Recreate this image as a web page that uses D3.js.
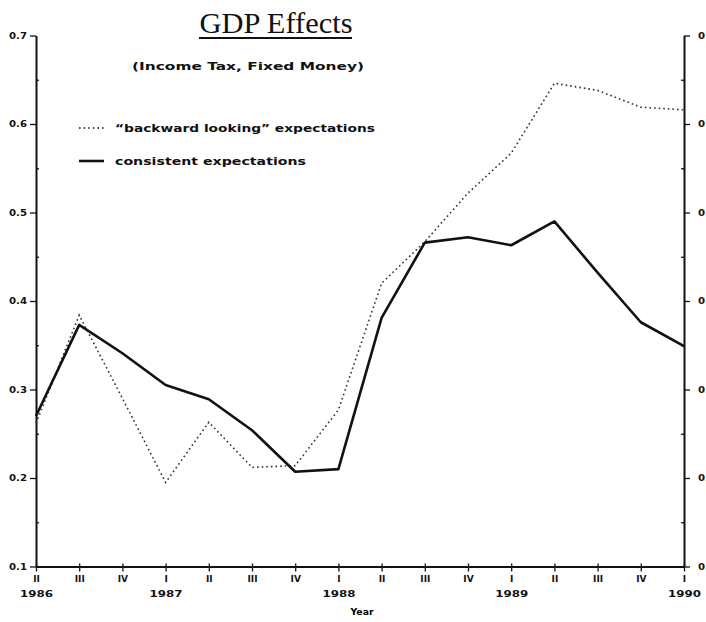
<!DOCTYPE html>
<html>
<head>
<meta charset="utf-8">
<script src="https://cdn.jsdelivr.net/npm/d3@7"></script>
<style>
  body { margin: 0; background: #fff; }
  svg { display: block; }
  .tick text { font-family: "DejaVu Sans", sans-serif; font-weight: bold; fill: #111; }
</style>
</head>
<body>
<div id="chart"></div>
<script>
// quarters from 1986 II to 1990 I
var quarters = ["II","III","IV","I","II","III","IV","I","II","III","IV","I","II","III","IV","I"];
var years    = ["1986","","","1987","","","","1988","","","","1989","","","","1990"];
var yTicks   = [0.1, 0.2, 0.3, 0.4, 0.5, 0.6, 0.7];

var backward   = [0.262, 0.384, 0.290, 0.195, 0.263, 0.212, 0.214, 0.277, 0.420, 0.467, 0.522, 0.567, 0.646, 0.638, 0.619, 0.616];
var consistent = [0.270, 0.373, 0.341, 0.305, 0.289, 0.254, 0.207, 0.210, 0.381, 0.466, 0.472, 0.463, 0.490, 0.432, 0.376, 0.349];

var W = 706, H = 622;
var plotL = 36, plotR = 684, plotT = 35.5, plotB = 566.5;

var svg = d3.select("#chart").append("svg")
  .attr("width", W).attr("height", H);

var x = d3.scaleLinear().domain([0, 15]).range([plotL, plotR]);
var y = d3.scaleLinear().domain([0.1, 0.7]).range([plotB, plotT]);

// left axis, major ticks outward
var yl = svg.append("g")
  .attr("transform", "translate(" + plotL + ",0)")
  .call(d3.axisLeft(y).tickValues(yTicks).tickSize(6).tickSizeOuter(0).tickPadding(3)
    .tickFormat(d3.format(".1f")));
yl.selectAll("text").style("font-size", "8px").attr("textLength", 18).attr("lengthAdjust", "spacingAndGlyphs");

// right axis, labels run off the page like the original
var yr = svg.append("g")
  .attr("transform", "translate(" + plotR + ",0)")
  .call(d3.axisRight(y).tickValues(yTicks).tickSize(6).tickSizeOuter(0).tickPadding(8)
    .tickFormat(d3.format(".1f")));
yr.selectAll("text").style("font-size", "8px").attr("textLength", 18).attr("lengthAdjust", "spacingAndGlyphs");

// minor ticks inside
var minor = [0.15, 0.25, 0.35, 0.45, 0.55, 0.65];
svg.append("g").attr("transform", "translate(" + plotL + ",0)")
  .call(d3.axisRight(y).tickValues(minor).tickSize(3).tickFormat(""))
  .select(".domain").remove();
svg.append("g").attr("transform", "translate(" + plotR + ",0)")
  .call(d3.axisLeft(y).tickValues(minor).tickSize(3).tickFormat(""))
  .select(".domain").remove();

// bottom axis
var xa = svg.append("g")
  .attr("transform", "translate(0," + plotB + ")")
  .call(d3.axisBottom(x).tickValues(d3.range(16)).tickSize(5).tickSizeOuter(0).tickPadding(4)
    .tickFormat(function(i) { return quarters[i]; }));
xa.selectAll("text").style("font-size", "9px");
xa.selectAll(".tick line").attr("y1", -3);
xa.selectAll(".tick").append("text")
  .attr("y", 30).attr("text-anchor", "middle")
  .style("font-size", "9px")
  .text(function(i) { return years[i]; })
  .each(function(i) {
    if (years[i]) d3.select(this).attr("textLength", 33).attr("lengthAdjust", "spacingAndGlyphs");
  });

svg.selectAll(".domain").attr("stroke", "#111").attr("stroke-width", 2);
svg.selectAll(".tick line").attr("stroke", "#111").attr("stroke-width", 1.3);

// axis title
svg.append("text")
  .attr("x", 362).attr("y", 615)
  .attr("text-anchor", "middle")
  .style("font-family", "DejaVu Sans").style("font-weight", "bold").style("font-size", "9px")
  .attr("textLength", 23).attr("lengthAdjust", "spacingAndGlyphs")
  .text("Year");

// lines
var line = d3.line()
  .x(function(d, i) { return x(i); })
  .y(function(d) { return y(d); });

svg.append("path")
  .datum(backward)
  .attr("d", line)
  .attr("fill", "none")
  .attr("stroke", "#333")
  .attr("stroke-width", 1.6)
  .attr("stroke-dasharray", "1.6,3");

svg.append("path")
  .datum(consistent)
  .attr("d", line)
  .attr("fill", "none")
  .attr("stroke", "#111")
  .attr("stroke-width", 2.6)
  .attr("stroke-linejoin", "round");

// titles
svg.append("text")
  .attr("x", 276).attr("y", 33)
  .attr("text-anchor", "middle")
  .style("font-family", "Liberation Serif, serif").style("font-size", "29px")
  .attr("textLength", 153).attr("lengthAdjust", "spacingAndGlyphs")
  .attr("fill", "#111")
  .text("GDP Effects");
svg.append("line")
  .attr("x1", 199).attr("x2", 352).attr("y1", 38).attr("y2", 38)
  .attr("stroke", "#111").attr("stroke-width", 2);

svg.append("text")
  .attr("x", 248).attr("y", 70)
  .attr("text-anchor", "middle")
  .style("font-family", "DejaVu Sans").style("font-weight", "bold").style("font-size", "11px")
  .attr("textLength", 232).attr("lengthAdjust", "spacingAndGlyphs")
  .attr("fill", "#111")
  .text("(Income Tax, Fixed Money)");

// legend
var legend = [
  { label: "\u201Cbackward looking\u201D expectations", dash: "1.6,3", w: 1.6, y: 128, len: 260 },
  { label: "consistent expectations", dash: null, w: 2.6, y: 161, len: 191 }
];
legend.forEach(function(d) {
  svg.append("line")
    .attr("x1", 79).attr("x2", 104).attr("y1", d.y).attr("y2", d.y)
    .attr("stroke", "#111").attr("stroke-width", d.w)
    .attr("stroke-dasharray", d.dash);
  svg.append("text")
    .attr("x", 115).attr("y", d.y + 4)
    .style("font-family", "DejaVu Sans").style("font-weight", "bold").style("font-size", "11px")
    .attr("textLength", d.len).attr("lengthAdjust", "spacingAndGlyphs")
    .attr("fill", "#111")
    .text(d.label);
});
</script>
</body>
</html>
